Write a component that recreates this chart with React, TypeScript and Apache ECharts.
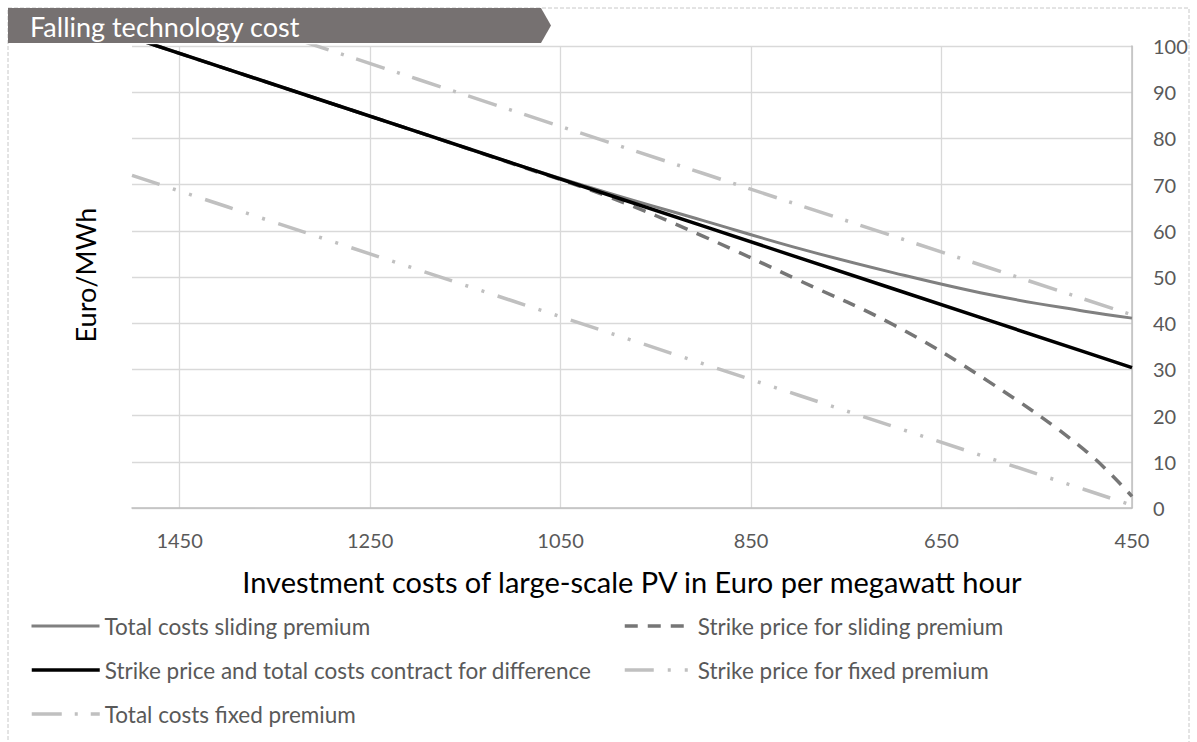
import React, { useEffect, useRef } from "react";
import * as echarts from "echarts";

// Investment costs (Euro) – x values
const costs = [1500, 1400, 1300, 1200, 1100, 1000, 900, 800, 700, 600, 500, 450];
// Series values (Euro/MWh)
const totalSliding = [101.8, 95.0, 88.2, 81.4, 74.6, 68.2, 62.2, 56.2, 50.9, 46.2, 42.6, 41.1];
const strikeSliding = [101.8, 95.0, 88.2, 81.4, 74.5, 67.4, 58.8, 49.3, 39.6, 27.3, 12.6, 2.5];
const cfd = [101.8, 95.0, 88.2, 81.4, 74.6, 67.8, 61.0, 54.2, 47.4, 40.6, 33.8, 30.4];
const strikeFixed = [72.0, 65.2, 58.4, 51.6, 44.8, 38.0, 31.2, 24.4, 17.6, 10.8, 4.0, 0.6];
const totalFixed = [113.2, 106.4, 99.6, 92.8, 86.0, 79.2, 72.4, 65.6, 58.8, 52.0, 45.2, 41.8];

const xTicks = [1450, 1250, 1050, 850, 650, 450];
const seriesNames = [
  "Total costs sliding premium",
  "Strike price for sliding premium",
  "Strike price and total costs contract for difference",
  "Strike price for fixed premium",
  "Total costs fixed premium",
];
const titleText = "Falling technology cost";
const yTitle = "Euro/MWh";
const xTitle = "Investment costs of large-scale PV in Euro per megawatt hour";

const FONT = "Lato";

export default function App() {
  const ref = useRef<HTMLDivElement>(null);

  useEffect(() => {
    if (!ref.current) return;
    const chart = echarts.init(ref.current, undefined, { renderer: "svg" });

    const styles = [
      { color: "#808080", width: 3, type: "solid" as any },
      { color: "#767676", width: 3.5, type: [13, 10] as any },
      { color: "#000000", width: 3.5, type: "solid" as any },
      { color: "#c0c0c0", width: 3.5, type: [29, 14, 3, 14, 3, 14] as any },
      { color: "#c0c0c0", width: 3.5, type: [30, 13, 3, 13] as any },
    ];
    const dataSets = [totalSliding, strikeSliding, cfd, strikeFixed, totalFixed];

    const series = dataSets.map((arr, i) => ({
      name: seriesNames[i],
      type: "line",
      data: costs.map((c, j) => [c, arr[j]]),
      symbol: "none",
      smooth: i === 0 || i === 1 ? 0.4 : false,
      clip: true,
      lineStyle: { color: styles[i].color, width: styles[i].width, type: styles[i].type, cap: "butt" },
      itemStyle: { color: styles[i].color },
    }));

    const legendPos = [
      { left: 30, row: 626 },
      { left: 623, row: 626 },
      { left: 30, row: 670 },
      { left: 623, row: 670 },
      { left: 30, row: 714 },
    ];
    const legend = seriesNames.map((n, i) => ({
      data: [n],
      left: legendPos[i].left,
      top: legendPos[i].row - 12,
      padding: 0,
      itemWidth: 68,
      itemHeight: 14,
      selectedMode: false,
      lineStyle: { width: styles[i].width, color: styles[i].color, type: styles[i].type, cap: "butt" },
      itemStyle: { opacity: 0 },
      textStyle: {
        color: "#595959",
        fontSize: 22.5,
        fontFamily: FONT,
        lineHeight: 24,
        padding: [0, 0, 0, 0],
      },
    }));

    chart.setOption({
      animation: false,
      backgroundColor: "#ffffff",
      grid: { left: 132, right: 65, top: 46, bottom: 234, containLabel: false },
      xAxis: {
        type: "value",
        inverse: true,
        min: 450,
        max: 1500,
        name: xTitle,
        nameLocation: "middle",
        nameGap: 59,
        nameTextStyle: { color: "#000000", fontSize: 29, fontFamily: FONT },
        axisLine: { show: true, lineStyle: { color: "#bfbfbf", width: 1.5 } },
        axisTick: { show: false, customValues: xTicks },
        axisLabel: {
          customValues: xTicks,
          formatter: (v: number) => String(v),
          color: "#595959",
          fontSize: 20,
          fontFamily: FONT,
          margin: 22,
        },
        splitLine: { show: true, lineStyle: { color: "#d9d9d9", width: 1.3 } },
      },
      yAxis: {
        type: "value",
        position: "right",
        min: 0,
        max: 100,
        interval: 10,
        axisLine: { show: true, lineStyle: { color: "#bfbfbf", width: 1.5 } },
        axisTick: { show: false },
        axisLabel: { color: "#595959", fontSize: 20, fontFamily: FONT, margin: 21 },
        splitLine: { show: true, lineStyle: { color: "#d9d9d9", width: 1.3 } },
      },
      legend,
      series,
      graphic: [
        {
          type: "rect",
          silent: true,
          shape: { x: 8, y: 8, width: 1181, height: 760 },
          style: { fill: "none", stroke: "#c8c8c8", lineWidth: 1, lineDash: [4, 2] },
          z: 0,
        },
        {
          type: "polygon",
          silent: true,
          shape: { points: [[8, 8], [541, 8], [551, 25.5], [541, 43], [8, 43]] },
          style: { fill: "#767171" },
          z: 10,
        },
        {
          type: "text",
          silent: true,
          x: 30,
          y: 26,
          style: {
            text: titleText,
            fill: "#ffffff",
            fontSize: 27,
            fontFamily: FONT,
            verticalAlign: "middle",
            align: "left",
          },
          z: 11,
        },
        {
          type: "text",
          silent: true,
          x: 85,
          y: 275,
          rotation: Math.PI / 2,
          style: {
            text: yTitle,
            fill: "#000000",
            fontSize: 27,
            fontFamily: FONT,
            verticalAlign: "middle",
            align: "center",
          },
        },
      ],
    });

    return () => chart.dispose();
  }, []);

  return (
    <div
      ref={ref}
      style={{ position: "fixed", left: 0, top: 0, width: 1197, height: 742, background: "#fff" }}
    />
  );
}
